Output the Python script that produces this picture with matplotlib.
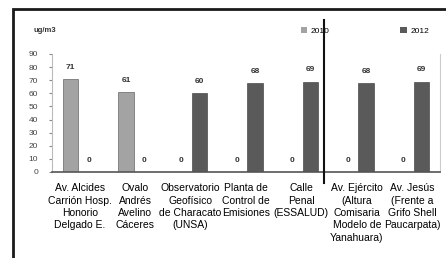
import numpy as np
import matplotlib
matplotlib.use("Agg")
import matplotlib.pyplot as plt
from matplotlib.patches import Rectangle, Patch
from matplotlib.lines import Line2D

plt.rcParams['font.family'] = ['Liberation Sans Narrow', 'Liberation Sans', 'DejaVu Sans']

# estaciones de monitoreo
estaciones = ["Av. Alcides\nCarrión Hosp.\nHonorio\nDelgado E.",
              "Ovalo\nAndrés\nAvelino\nCáceres",
              "Observatorio\nGeofísico\nde Characato\n(UNSA)",
              "Planta de\nControl de\nEmisiones",
              "Calle\nPenal\n(ESSALUD)",
              "Av. Ejército\n(Altura\nComisaria\nModelo de\nYanahuara)",
              "Av. Jesús\n(Frente a\nGrifo Shell\nPaucarpata)"]
valores_2010 = [71, 61, 0, 0, 0, 0, 0]
valores_2012 = [0, 0, 60, 68, 69, 68, 69]
anios = ["2010", "2012"]
yticks = [0, 10, 20, 30, 40, 50, 60, 70, 80, 90]

W, H = 446, 258
fig = plt.figure(figsize=(W / 100, H / 100), dpi=100)
fig.patch.set_facecolor("white")

# marco negro del documento
fig.add_artist(Rectangle((13 / W, -0.1), 1.2, 1 - 9 / H + 0.1, transform=fig.transFigure,
                         fill=False, edgecolor="#1a1a1a", lw=2))

ax = fig.add_axes([52 / W, 1 - 172 / H, (440 - 52) / W, (172 - 54) / H])
x = np.arange(len(estaciones))
w = 0.28
off = 0.165
b1 = ax.bar(x - off, valores_2010, w, color="#a3a3a3", edgecolor="#4a4a4a", linewidth=0.4)
b2 = ax.bar(x + off, valores_2012, w, color="#5a5a5a", edgecolor="#333333", linewidth=0.4)
ax.bar_label(b1, fontsize=6, padding=6, fontweight="bold", color="#333333")
ax.bar_label(b2, fontsize=6, padding=6, fontweight="bold", color="#333333")

ax.set_xlim(-0.5, len(estaciones) - 0.5)
ax.set_ylim(0, 90)
ax.set_yticks(yticks)
ax.tick_params(axis="y", labelsize=6, length=2, colors="#888888", labelcolor="#444444", pad=8)
ax.set_xticks(x)
ax.set_xticklabels(estaciones, fontsize=7.5, linespacing=1.3, va="top")
ax.tick_params(axis="x", length=0, pad=8)
ax.spines["top"].set_visible(False)
ax.spines["left"].set_color("#bbbbbb")
ax.spines["right"].set_color("#cccccc")
ax.spines["bottom"].set_color("#555555")
ax.spines["bottom"].set_linewidth(1.2)

fig.text(33 / W, 1 - 31 / H, "ug/m3", fontsize=5.5, fontweight="bold", va="center", color="#333333")

handles = [Patch(facecolor="#a3a3a3"), Patch(facecolor="#5a5a5a")]
fig.legend(handles, anios, ncol=2, loc="center left", bbox_to_anchor=(293 / W, 1 - 31 / H),
           frameon=False, fontsize=6, handlelength=0.8, handleheight=0.8,
           handletextpad=0.4, columnspacing=8.5)

# linea vertical del documento
fig.add_artist(Line2D([324 / W, 324 / W], [1 - 20 / H, 1 - 183 / H], transform=fig.transFigure,
                      color="#111111", lw=1.5))

fig.savefig("out.png", dpi=100)
